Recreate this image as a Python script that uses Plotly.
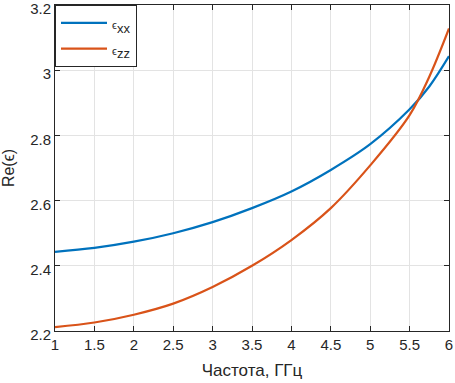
import plotly.graph_objects as go

freq = [1.0, 1.5, 2.0, 2.5, 3.0, 3.5, 4.0, 4.5, 5.0, 5.5, 5.75, 6.0]
eps_xx = [2.443, 2.455, 2.474, 2.500, 2.534, 2.577, 2.628, 2.694, 2.773, 2.880, 2.950, 3.043]
eps_zz = [2.212, 2.226, 2.250, 2.284, 2.335, 2.400, 2.479, 2.577, 2.708, 2.862, 2.980, 3.128]

x_ticks = [1, 1.5, 2, 2.5, 3, 3.5, 4, 4.5, 5, 5.5, 6]
y_ticks = [2.2, 2.4, 2.6, 2.8, 3.0, 3.2]
y_labels = ["2.2", "2.4", "2.6", "2.8", "3", "3.2"]

font_family = "Liberation Sans, Arial, sans-serif"

fig = go.Figure()
fig.add_trace(go.Scatter(x=freq, y=eps_xx, mode="lines", line=dict(color="#0072BD", width=2.2, shape="spline"),
                         name="<span style='font-size:11px'>ϵ</span><sub><span style='font-size:13px'>xx</span></sub>",
                         legendgroup="a"))
fig.add_trace(go.Scatter(x=freq, y=eps_zz, mode="lines", line=dict(color="#D95319", width=2.2, shape="spline"),
                         name="<span style='font-size:11px'>ϵ</span><sub><span style='font-size:13px'>zz</span></sub>",
                         legendgroup="b"))

axis_common = dict(showline=True, linecolor="#262626", linewidth=1, mirror="ticks",
                   ticks="inside", ticklen=5, tickcolor="#262626",
                   showgrid=True, gridcolor="#e3e3e3", gridwidth=1, zeroline=False,
                   ticklabeloverflow="allow",
                   tickfont=dict(family=font_family, size=15, color="#262626"))

fig.update_xaxes(range=[1, 6], tickvals=x_ticks, ticktext=[str(v) for v in x_ticks],
                 title=dict(text="Частота, ГГц", font=dict(family=font_family, size=17, color="#262626"), standoff=12),
                 **axis_common)
fig.update_yaxes(range=[2.2, 3.2], tickvals=y_ticks, ticktext=y_labels, ticklabelshift=4,
                 title=dict(text="Re(ϵ)", font=dict(family=font_family, size=16, color="#262626"), standoff=11),
                 **axis_common)

fig.update_layout(
    width=455, height=383,
    margin=dict(l=55, r=6, t=5, b=52, autoexpand=False),
    paper_bgcolor="white", plot_bgcolor="white",
    font=dict(family=font_family, color="#262626"),
    legend=dict(x=0, y=1, xanchor="left", yanchor="top", bgcolor="white",
                bordercolor="#262626", borderwidth=1,
                font=dict(family=font_family, size=16, color="#262626"),
                traceorder="grouped", tracegroupgap=2, itemwidth=46),
    showlegend=True,
)

fig.write_html("out.html", config={"displayModeBar": False},
               post_script="document.body.style.margin='0';document.body.style.overflow='hidden';")
